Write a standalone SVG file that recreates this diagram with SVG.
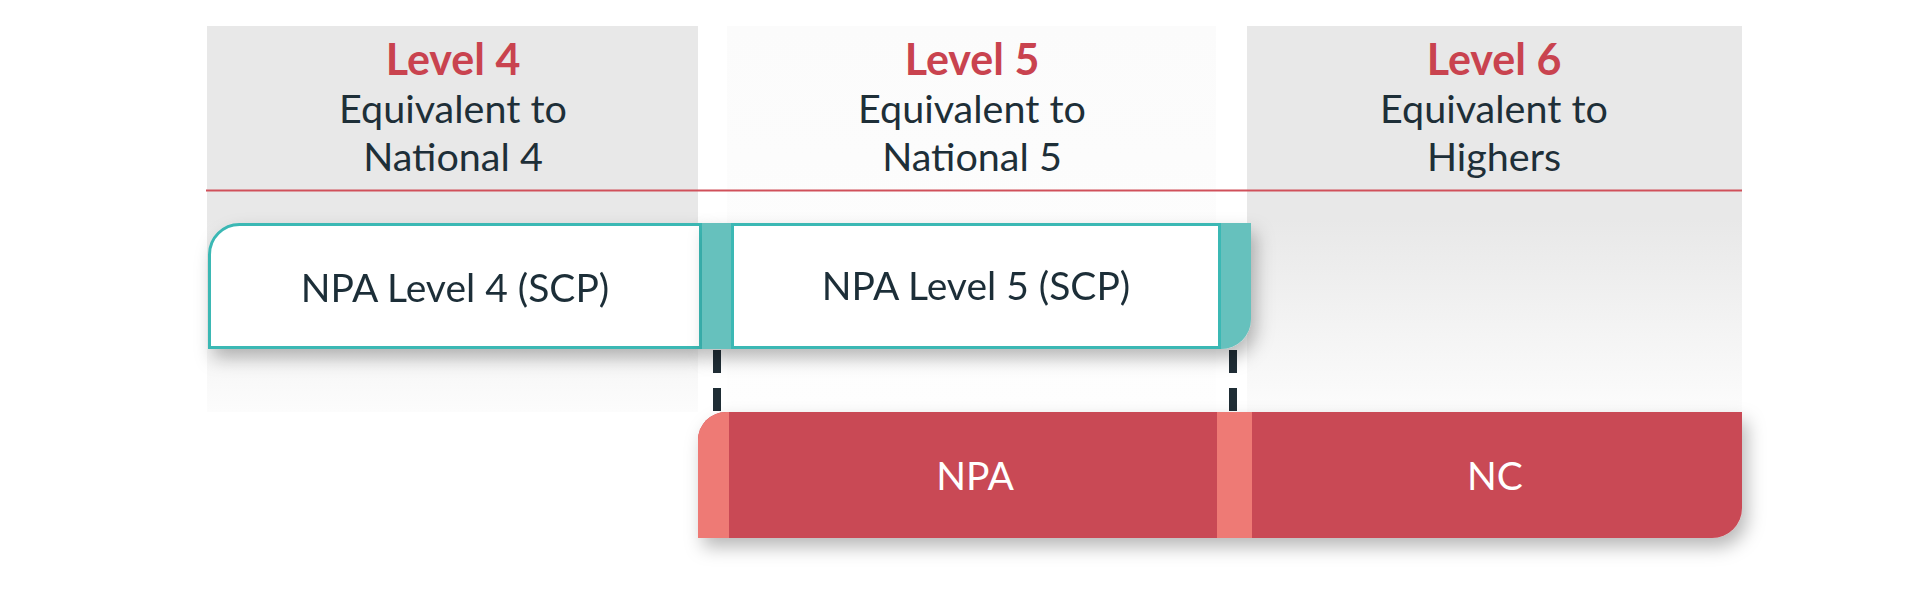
<svg xmlns="http://www.w3.org/2000/svg" width="1920" height="600" viewBox="0 0 1920 600">
<style>
.lvl{font-family:Lato,"Liberation Sans",sans-serif;font-weight:700;font-size:43px;fill:#c9434f;text-anchor:middle}
.eq{font-family:Lato,"Liberation Sans",sans-serif;font-size:39.5px;fill:#1e2f38;text-anchor:middle}
.bt{font-family:Lato,"Liberation Sans",sans-serif;font-size:39px;fill:#1e2f38;text-anchor:middle}
.wt{font-family:Lato,"Liberation Sans",sans-serif;font-size:39px;fill:#ffffff;text-anchor:middle}
.dash{stroke:#1f2d35;stroke-width:8;stroke-dasharray:23 15;fill:none}
</style>
<defs>
<linearGradient id="colg" x1="0" y1="0" x2="0" y2="1">
<stop offset="0" stop-color="#e8e8e8"/>
<stop offset="0.5" stop-color="#e8e8e8"/>
<stop offset="1" stop-color="#fcfcfc"/>
</linearGradient>
<linearGradient id="colm" x1="0" y1="0" x2="0" y2="1">
<stop offset="0" stop-color="#fbfbfb"/>
<stop offset="1" stop-color="#fefefe"/>
</linearGradient>
<filter id="sh" x="-10%" y="-30%" width="125%" height="170%">
<feDropShadow dx="5" dy="9" stdDeviation="9" flood-color="#000" flood-opacity="0.28"/>
</filter>
<clipPath id="redclip">
<path d="M726,412 H1742 V508 A30,30 0 0 1 1712,538 H698 V440 A28,28 0 0 1 726,412 Z"/>
</clipPath>
</defs>
<rect width="1920" height="600" fill="#ffffff"/>
<g id="columns">
<rect x="207" y="26" width="491" height="386" fill="url(#colg)"/>
<rect x="727" y="26" width="489" height="386" fill="url(#colm)"/>
<rect x="1247" y="26" width="495" height="386" fill="url(#colg)"/>
<line x1="206" y1="190.5" x2="1742" y2="190.5" stroke="#d0505a" stroke-width="2"/>
</g>
<g id="header-level4">
<text class="lvl" x="453" y="75">Level 4</text>
<text class="eq" x="453" y="123">Equivalent to</text>
<text class="eq" x="453" y="171">National 4</text>
</g>
<g id="header-level5">
<text class="lvl" x="972" y="75">Level 5</text>
<text class="eq" x="972" y="123">Equivalent to</text>
<text class="eq" x="972" y="171">National 5</text>
</g>
<g id="header-level6">
<text class="lvl" x="1494" y="75">Level 6</text>
<text class="eq" x="1494" y="123">Equivalent to</text>
<text class="eq" x="1494" y="171">Highers</text>
</g>
<g id="connectors">
<line class="dash" x1="717" y1="350" x2="717" y2="412"/>
<line class="dash" x1="1233" y1="350" x2="1233" y2="412"/>
</g>
<g id="npa-level4" filter="url(#sh)">
<path d="M239.5,224.5 H700.5 V347.5 H209.5 V254.5 A30,30 0 0 1 239.5,224.5 Z" fill="#ffffff" stroke="#3ab8b4" stroke-width="3"/>
<text class="bt" x="455" y="302">NPA Level 4 (SCP)</text>
</g>
<g id="npa-level5" filter="url(#sh)">
<path d="M702,223 H1251 V319 A30,30 0 0 1 1221,349 H702 Z" fill="#66c1bd"/>
<rect x="732.5" y="224.5" width="487" height="123" fill="#ffffff" stroke="#3ab8b4" stroke-width="3"/>
<text class="bt" x="976" y="300">NPA Level 5 (SCP)</text>
</g>
<g id="red-bar" filter="url(#sh)">
<path d="M726,412 H1742 V508 A30,30 0 0 1 1712,538 H698 V440 A28,28 0 0 1 726,412 Z" fill="#c94854"/>
<g clip-path="url(#redclip)">
<rect x="698" y="412" width="31" height="126" fill="#ee7a74"/>
<rect x="1217" y="412" width="35" height="126" fill="#ee7a74"/>
</g>
</g>
<g id="npa">
<text class="wt" x="975" y="490">NPA</text>
</g>
<g id="nc">
<text class="wt" x="1495" y="490">NC</text>
</g>
</svg>
